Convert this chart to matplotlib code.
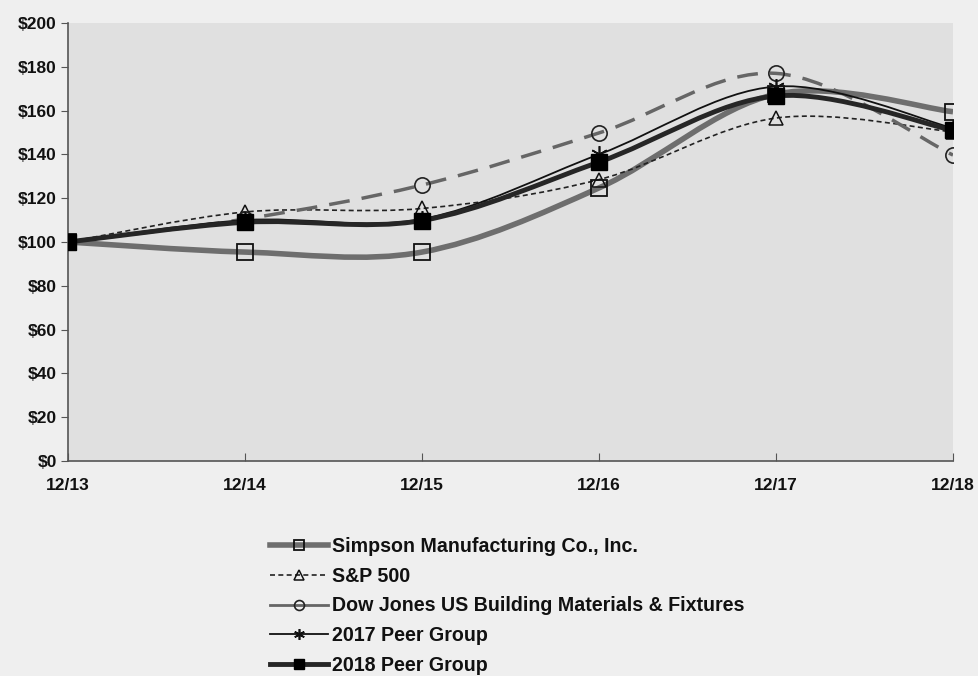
import numpy as np
import matplotlib
matplotlib.use("Agg")
import matplotlib.pyplot as plt
from matplotlib.path import Path
from matplotlib.patches import PathPatch
from matplotlib.lines import Line2D

periods = ["12/13", "12/14", "12/15", "12/16", "12/17", "12/18"]
simpson = [100, 95.4, 95.4, 124.7, 167.5, 159.5]
sp500 = [100, 113.7, 115.3, 128.5, 156.6, 150.3]
dowjones = [100, 110.5, 126.0, 149.8, 177.0, 139.7]
peer2017 = [100, 110.0, 110.5, 140.0, 171.0, 152.0]
peer2018 = [100, 109.0, 109.8, 136.5, 166.7, 151.0]
yticks = [0, 20, 40, 60, 80, 100, 120, 140, 160, 180, 200]

plt.rcParams['font.family'] = ['Liberation Sans', 'DejaVu Sans']
plt.rcParams['font.weight'] = 'bold'

fig = plt.figure(figsize=(9.79, 6.76), dpi=100)
fig.patch.set_facecolor('#efefef')
ax = fig.add_axes([68/979, 1-461/676, (953-68)/979, (461-23)/676])
ax.set_facecolor('#e0e0e0')

x = np.arange(len(periods))


def smooth_path(xs, ys):
    # Catmull-Rom style Bezier control points (Excel-like smoothing)
    pts = np.column_stack([xs, ys]).astype(float)
    verts = [pts[0]]
    codes = [Path.MOVETO]
    n = len(pts)
    t = 1/6
    for i in range(n-1):
        p0 = pts[i-1] if i > 0 else pts[i]
        p1 = pts[i]
        p2 = pts[i+1]
        p3 = pts[i+2] if i+2 < n else pts[i+1]
        c1 = p1 + (p2 - p0) * t
        c2 = p2 - (p3 - p1) * t
        verts += [c1, c2, p2]
        codes += [Path.CURVE4]*3
    return Path(verts, codes)


series = [
    (simpson, dict(color='#6e6e6e', lw=4.0, ls='-'), dict(marker='s', ms=11, mfc='none', mec='#111111', mew=1.3)),
    (sp500, dict(color='#222222', lw=1.2, ls=(0, (3, 2))), dict(marker='^', ms=10, mfc='none', mec='#111111', mew=1.1)),
    (dowjones, dict(color='#666666', lw=2.5, ls=(0, (6, 3.5))), dict(marker='o', ms=11, mfc='none', mec='#222222', mew=1.2)),
    (peer2017, dict(color='#111111', lw=1.3, ls='-'), dict(marker=(6, 2, 0), ms=12, mfc='none', mec='#111111', mew=1.2)),
    (peer2018, dict(color='#262626', lw=3.5, ls='-'), dict(marker='s', ms=11, mfc='#000000', mec='#000000', mew=1)),
]

labels = ["Simpson Manufacturing Co., Inc.", "S&P 500",
          "Dow Jones US Building Materials & Fixtures",
          "2017 Peer Group", "2018 Peer Group"]

handles = []
for (vals, lst, mst), lab in zip(series, labels):
    p = smooth_path(x, vals)
    patch = PathPatch(p, facecolor='none', edgecolor=lst['color'], lw=lst['lw'],
                      linestyle=lst['ls'], capstyle='butt', zorder=3)
    ax.add_patch(patch)
    ax.plot(x, vals, ls='none', zorder=4, **mst)
    hl = dict(mst)
    handles.append(Line2D([], [], color=lst['color'],
                          lw=(2.0 if lab == labels[2] else lst['lw']),
                          ls=('-' if lab == labels[2] else lst['ls']), **hl))

ax.set_xlim(0, len(periods)-1)
ax.set_ylim(0, 200)
ax.set_xticks(x)
ax.set_xticklabels(periods)
ax.set_yticks(yticks)
ax.set_yticklabels([f"${v}" for v in yticks])
for s in ['top', 'right']:
    ax.spines[s].set_visible(False)
for s in ['left', 'bottom']:
    ax.spines[s].set_color('#555555')
    ax.spines[s].set_linewidth(1.2)
ax.tick_params(axis='x', direction='in', length=6, color='#555555', labelsize=12.5, pad=12)
ax.tick_params(axis='y', direction='out', length=5, color='#555555', labelsize=12.5, pad=3)
for lab in ax.get_xticklabels() + ax.get_yticklabels():
    lab.set_fontweight('bold')
    lab.set_color('#111111')

leg = fig.legend(handles=handles, labels=labels, loc='upper left',
                 bbox_to_anchor=(262/979, 1-529/676), frameon=False,
                 fontsize=14.1, handlelength=2.95, handletextpad=0.2,
                 labelspacing=0.55, borderaxespad=0, markerscale=0.65)
for t in leg.get_texts():
    t.set_fontweight('bold')
    t.set_color('#111111')

fig.savefig('out.png', dpi=100, facecolor=fig.get_facecolor())
